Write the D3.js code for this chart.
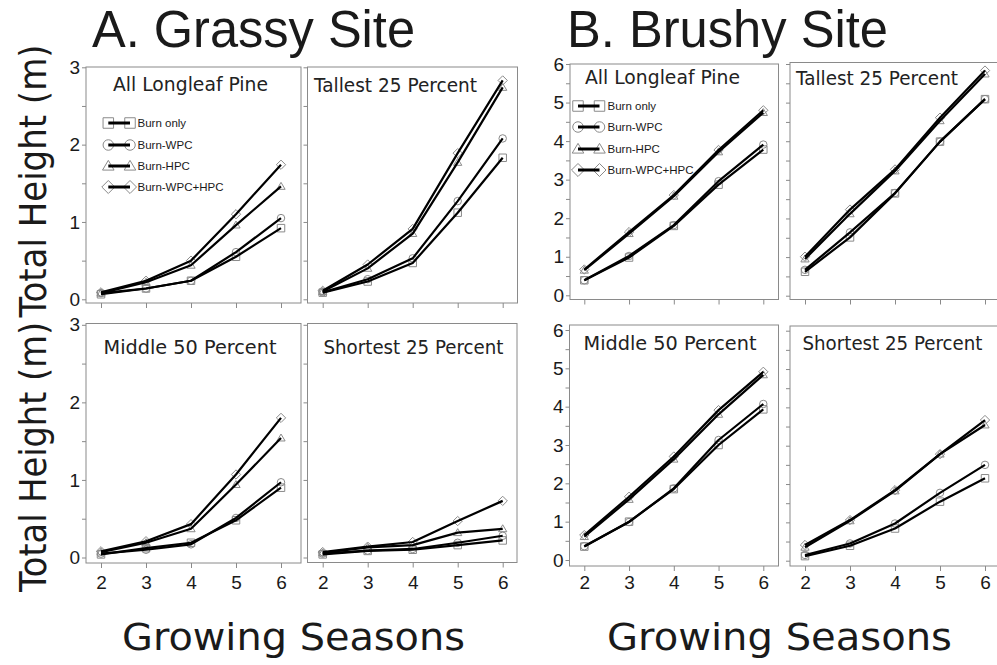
<!DOCTYPE html>
<html><head><meta charset="utf-8">
<script src="https://cdn.jsdelivr.net/npm/d3@7"></script>
<style>
html,body{margin:0;padding:0;background:#fff;}
svg{display:block;}
</style></head>
<body>
<svg id="chart" width="997" height="665"></svg>
<script>
// ---------------- DATA ----------------
const seasons = [2, 3, 4, 5, 6];
const treatments = ["Burn only", "Burn-WPC", "Burn-HPC", "Burn-WPC+HPC"];
const panelTitles = ["All Longleaf Pine", "Tallest 25 Percent", "Middle 50 Percent", "Shortest 25 Percent"];
const siteTitles = ["A. Grassy Site", "B. Brushy Site"];
const yAxisTitle = "Total Height (m)";
const xAxisTitle = "Growing Seasons";
const grassyTicks = [0, 0.5, 1, 1.5, 2, 2.5, 3];
const brushyTicks = [0, 0.5, 1, 1.5, 2, 2.5, 3, 3.5, 4, 4.5, 5, 5.5, 6];

// each: [Burn only, Burn-WPC, Burn-HPC, Burn-WPC+HPC] by season 2..6
const grassyAll = [
  [0.065, 0.14, 0.24, 0.55, 0.92],
  [0.08, 0.14, 0.24, 0.61, 1.05],
  [0.08, 0.22, 0.44, 0.96, 1.46],
  [0.09, 0.24, 0.50, 1.10, 1.74]
];
const grassyTallest = [
  [0.086, 0.23, 0.47, 1.12, 1.83],
  [0.09, 0.26, 0.53, 1.27, 2.08],
  [0.10, 0.40, 0.85, 1.77, 2.74],
  [0.11, 0.45, 0.91, 1.89, 2.83]
];
const grassyMiddle = [
  [0.04, 0.12, 0.19, 0.48, 0.90],
  [0.05, 0.10, 0.17, 0.51, 0.97],
  [0.07, 0.19, 0.37, 0.94, 1.54],
  [0.08, 0.21, 0.43, 1.07, 1.80]
];
const grassyShortest = [
  [0.04, 0.085, 0.10, 0.16, 0.22],
  [0.05, 0.09, 0.11, 0.19, 0.28],
  [0.06, 0.13, 0.16, 0.32, 0.37],
  [0.07, 0.14, 0.20, 0.47, 0.73]
];
const brushyAll = [
  [0.39, 0.98, 1.80, 2.87, 3.78],
  [0.39, 1.02, 1.82, 2.96, 3.91],
  [0.65, 1.60, 2.57, 3.72, 4.74],
  [0.67, 1.64, 2.60, 3.77, 4.80]
];
const brushyTallest = [
  [0.62, 1.51, 2.65, 3.99, 5.09],
  [0.67, 1.64, 2.66, 3.99, 5.09],
  [0.95, 2.12, 3.23, 4.53, 5.74],
  [1.01, 2.23, 3.27, 4.61, 5.83]
];
const brushyMiddle = [
  [0.35, 1.00, 1.85, 3.00, 3.93],
  [0.36, 0.99, 1.87, 3.13, 4.07],
  [0.61, 1.58, 2.63, 3.80, 4.83],
  [0.65, 1.65, 2.70, 3.91, 4.91]
];
const brushyShortest = [
  [0.12, 0.39, 0.84, 1.54, 2.15],
  [0.15, 0.45, 0.97, 1.77, 2.50],
  [0.35, 1.04, 1.82, 2.78, 3.54],
  [0.41, 1.06, 1.84, 2.78, 3.67]
];

// ---------------- LAYOUT ----------------
const svg = d3.select("#chart");
const GRAY = "#8a8a8a";
const TXT = "#1a1a1a";
const GOTHIC = "'DejaVu Sans', 'Noto Sans', sans-serif";
const ARIAL = "'Liberation Sans', Arial, sans-serif";

const panels = [
  // grassy
  {data: grassyAll, title: 0, ymax: 3, ticks: grassyTicks, box: [86, 301, 67, 303], xr: [101, 281], yr: [299.3, 67.3], ylab: true, xlab: false, tt: [113, 91, 155]},
  {data: grassyTallest, title: 1, ymax: 3, ticks: grassyTicks, box: [307.5, 517.5, 67, 303], xr: [322.7, 502.7], yr: [299.3, 67.3], ylab: false, xlab: false, tt: [314, 91.5, 163]},
  {data: grassyMiddle, title: 2, ymax: 3, ticks: grassyTicks, box: [86, 301, 323.5, 563], xr: [101, 281], yr: [557.5, 324.8], ylab: true, xlab: true, tt: [103.5, 354, 173]},
  {data: grassyShortest, title: 3, ymax: 3, ticks: grassyTicks, box: [307.5, 517, 323.5, 562.5], xr: [322.7, 502.7], yr: [557.5, 324.8], ylab: false, xlab: true, tt: [323.5, 353.5, 180]},
  // brushy
  {data: brushyAll, title: 0, ymax: 6, ticks: brushyTicks, box: [570, 778.5, 64, 299.5], xr: [584.3, 763.3], yr: [295.3, 64], ylab: true, xlab: false, tt: [585, 83.5, 155]},
  {data: brushyTallest, title: 1, ymax: 6, ticks: brushyTicks, box: [790, 1004, 62.5, 299.5], xr: [805, 985], yr: [295.7, 64], ylab: false, xlab: false, tt: [796, 85, 162]},
  {data: brushyMiddle, title: 2, ymax: 6, ticks: brushyTicks, box: [569.5, 778.5, 325, 566], xr: [584.3, 763.3], yr: [560, 330], ylab: true, xlab: true, tt: [583.5, 350, 173]},
  {data: brushyShortest, title: 3, ymax: 6, ticks: brushyTicks, box: [790, 1004, 326, 566], xr: [805, 985], yr: [560.7, 330.7], ylab: false, xlab: true, tt: [802.5, 350, 180]}
];

// marker shapes (path generators centered at 0,0)
function markerPath(i, s) {
  const p = d3.path();
  if (i === 0) { p.rect(-s / 2, -s / 2, s, s); }
  else if (i === 1) { p.moveTo(s / 2, 0); p.arc(0, 0, s / 2, 0, 2 * Math.PI); }
  else if (i === 2) {
    const h = s * 0.866;
    p.moveTo(0, -h * 0.62); p.lineTo(s / 2 * 1.1, h * 0.45); p.lineTo(-s / 2 * 1.1, h * 0.45); p.closePath();
  } else { const r = s * 0.62; p.moveTo(0, -r); p.lineTo(r, 0); p.lineTo(0, r); p.lineTo(-r, 0); p.closePath(); }
  return p.toString();
}

panels.forEach(P => {
  const [x0, x1, y0, y1] = P.box;
  const x = d3.scaleLinear().domain([2, 6]).range(P.xr);
  const y = d3.scaleLinear().domain([0, P.ymax]).range(P.yr);
  const g = svg.append("g");

  // box
  g.append("rect").attr("x", x0).attr("y", y0).attr("width", x1 - x0).attr("height", y1 - y0)
    .attr("fill", "none").attr("stroke", GRAY).attr("stroke-width", 1);

  // y axis
  const ya = g.append("g").attr("transform", `translate(${x0},0)`)
    .call(d3.axisLeft(y).tickValues(P.ticks).tickSize(4).tickSizeOuter(0).tickPadding(2)
      .tickFormat(d => (P.ylab && Number.isInteger(d)) ? d3.format("d")(d) : ""));
  ya.select(".domain").remove();
  ya.selectAll(".tick line").attr("stroke", GRAY);
  ya.selectAll(".tick text").attr("fill", TXT).style("font-family", ARIAL).style("font-size", "19px");

  // x axis
  const pad = 576 - y1 - 5;
  const xa = g.append("g").attr("transform", `translate(0,${y1})`)
    .call(d3.axisBottom(x).tickValues(seasons).tickSize(5).tickSizeOuter(0).tickPadding(pad)
      .tickFormat(d => P.xlab ? d3.format("d")(d) : ""));
  xa.select(".domain").remove();
  xa.selectAll(".tick line").attr("stroke", GRAY);
  xa.selectAll(".tick text").attr("fill", TXT).style("font-family", ARIAL).style("font-size", "19px");

  // title
  g.append("text").attr("x", P.tt[0]).attr("y", P.tt[1]).attr("textLength", P.tt[2])
    .attr("lengthAdjust", "spacingAndGlyphs")
    .style("font-family", GOTHIC).style("font-size", "19px").attr("fill", "#222")
    .text(panelTitles[P.title]);

  // series
  const line = d3.line().x((d, i) => x(seasons[i])).y(d => y(d));
  P.data.forEach((ser, si) => {
    g.append("g").selectAll("path").data(ser).join("path")
      .attr("d", markerPath(si, 7.5))
      .attr("transform", (d, i) => `translate(${x(seasons[i])},${y(d)})`)
      .attr("fill", "none").attr("stroke", GRAY).attr("stroke-width", 1);
  });
  P.data.forEach((ser, si) => {
    g.append("path").datum(ser).attr("d", line)
      .attr("fill", "none").attr("stroke", "#000").attr("stroke-width", 2.2)
      .attr("stroke-linejoin", "round");
  });
});

// legends
const legends = [
  {xa: 108.3, xb: 130, xt: 137.5, ys: [123, 145, 166, 187]},
  {xa: 578, xb: 599.5, xt: 607.5, ys: [106, 127, 149, 170]}
];
legends.forEach(L => {
  const lg = svg.append("g");
  treatments.forEach((t, i) => {
    const yy = L.ys[i];
    [L.xa, L.xb].forEach(xx => {
      lg.append("path").attr("d", markerPath(i, 10.5)).attr("transform", `translate(${xx},${yy})`)
        .attr("fill", "none").attr("stroke", GRAY).attr("stroke-width", 1);
    });
    lg.append("line").attr("x1", L.xa).attr("x2", L.xb).attr("y1", yy).attr("y2", yy)
      .attr("stroke", "#000").attr("stroke-width", 3);
    lg.append("text").attr("x", L.xt).attr("y", yy).attr("dy", "0.36em")
      .style("font-family", ARIAL).style("font-size", "11.5px").attr("fill", TXT).text(t);
  });
});

// site titles
[[92, 323], [567, 321]].forEach((p, i) => {
  svg.append("text").attr("x", p[0]).attr("y", 47).attr("textLength", p[1]).attr("lengthAdjust", "spacingAndGlyphs")
    .style("font-family", ARIAL).style("font-size", "51px").attr("fill", TXT).text(siteTitles[i]);
});

// y axis titles
[[181, 273], [457, 270]].forEach(p => {
  svg.append("text").attr("transform", `translate(46,${p[0]}) rotate(-90)`).attr("text-anchor", "middle")
    .attr("textLength", p[1]).attr("lengthAdjust", "spacingAndGlyphs")
    .style("font-family", GOTHIC).style("font-size", "38px").attr("fill", TXT).text(yAxisTitle);
});

// x axis titles
[[122, 343], [607, 345]].forEach(p => {
  svg.append("text").attr("x", p[0]).attr("y", 650).attr("textLength", p[1]).attr("lengthAdjust", "spacingAndGlyphs")
    .style("font-family", GOTHIC).style("font-size", "38px").attr("fill", TXT).text(xAxisTitle);
});
</script>
</body></html>
